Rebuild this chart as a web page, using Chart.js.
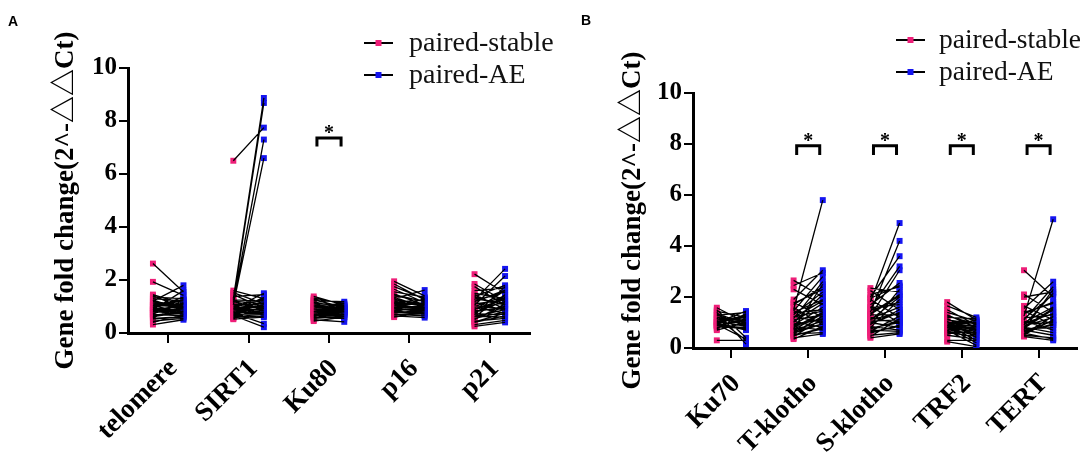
<!DOCTYPE html>
<html>
<head>
<meta charset="utf-8">
<script src="https://cdn.jsdelivr.net/npm/chart.js@4.4.1/dist/chart.umd.min.js"></script>
<style>
  body { margin: 0; background: #fff; }
  #wrap { position: relative; width: 1084px; height: 456px; overflow: hidden; }
  canvas { position: absolute; top: 0; }
  #cA { left: 0; }
  #cB { left: 540px; }
  .tag { position: absolute; font: bold 14px 'Liberation Sans', Arial, sans-serif; color: #000; }
</style>
</head>
<body>
<div id="wrap">
  <canvas id="cA" width="570" height="456"></canvas>
  <canvas id="cB" width="544" height="456"></canvas>
  <div class="tag" style="left:8px;top:13px">A</div>
  <div class="tag" style="left:581px;top:12px">B</div>
</div>
<script>
// categories / legend / ticks
const genesA = ['telomere', 'SIRT1', 'Ku80', 'p16', 'p21'];
const genesB = ['Ku70', 'T-klotho', 'S-klotho', 'TRF2', 'TERT'];
const series = ['paired-stable', 'paired-AE'];
const yTicks = [0, 2, 4, 6, 8, 10];
const yTitle = 'Gene fold change(2^-△△Ct)';

// panel A (same index = same patient)
const telomereStable = [2.62, 1.93, 1.45, 1.40, 1.35, 1.30, 1.25, 1.20, 1.18, 1.12, 1.08, 1.05, 1.02, 0.98, 0.95, 0.92, 0.90, 0.88, 0.85, 0.82, 0.80, 0.78, 0.75, 0.72, 0.70, 0.66, 0.62, 0.58, 0.52, 0.45, 0.40, 0.32, 1.15, 1.00, 0.93, 0.86, 0.76, 0.68, 0.60, 0.55];
const telomereAE     = [1.55, 1.42, 1.10, 0.95, 1.30, 1.20, 0.85, 1.80, 1.05, 0.90, 1.25, 0.98, 0.80, 1.15, 1.35, 0.75, 1.00, 1.60, 0.92, 0.70, 1.08, 0.88, 0.95, 1.12, 0.65, 0.82, 0.78, 1.02, 0.60, 0.55, 0.68, 0.50, 1.00, 1.22, 0.87, 1.05, 0.96, 0.74, 0.90, 0.62];
const sirt1Stable = [6.50, 1.60, 1.52, 1.45, 1.38, 1.30, 1.25, 1.22, 1.18, 1.15, 1.10, 1.06, 1.02, 0.98, 0.95, 0.92, 0.90, 0.87, 0.85, 0.82, 0.80, 0.78, 0.75, 0.72, 0.70, 0.66, 0.62, 0.58, 0.55, 0.52, 1.20, 1.08, 1.00, 0.93, 0.88, 0.76, 0.68, 0.60];
const sirt1AE     = [7.75, 1.30, 1.10, 0.95, 1.45, 8.87, 1.20, 8.68, 0.90, 7.30, 1.05, 6.60, 1.25, 1.00, 0.85, 1.50, 1.15, 0.80, 0.92, 1.35, 0.75, 1.08, 0.35, 0.70, 0.98, 0.22, 0.88, 0.65, 1.02, 0.60, 1.10, 0.92, 1.28, 0.85, 1.05, 0.95, 0.78, 0.72];
const ku80Stable = [1.38, 1.32, 1.28, 1.22, 1.18, 1.15, 1.10, 1.06, 1.02, 1.00, 0.98, 0.95, 0.92, 0.90, 0.88, 0.86, 0.84, 0.82, 0.80, 0.78, 0.75, 0.72, 0.70, 0.68, 0.65, 0.62, 0.58, 0.55, 0.50, 0.45, 1.25, 1.12, 1.04, 0.96, 0.87, 0.79, 0.71, 0.60];
const ku80AE     = [1.05, 1.10, 0.95, 1.18, 0.90, 1.00, 0.85, 0.92, 1.12, 0.80, 0.88, 0.98, 0.82, 1.02, 0.78, 0.95, 0.86, 0.75, 0.90, 0.72, 0.84, 0.80, 0.70, 0.65, 0.88, 0.55, 0.78, 0.62, 0.42, 0.60, 0.98, 1.05, 0.86, 0.93, 0.80, 0.88, 0.76, 0.68];
const p16Stable = [1.95, 1.85, 1.75, 1.65, 1.55, 1.48, 1.40, 1.35, 1.30, 1.25, 1.20, 1.16, 1.12, 1.08, 1.05, 1.02, 1.00, 0.97, 0.94, 0.92, 0.90, 0.88, 0.85, 0.82, 0.80, 0.78, 0.75, 0.70, 0.65, 0.60, 1.45, 1.28, 1.14, 1.03, 0.95, 0.86, 0.77, 0.68];
const p16AE     = [1.40, 1.25, 1.30, 1.15, 1.35, 1.05, 1.20, 0.95, 1.62, 1.10, 1.00, 1.25, 0.90, 1.08, 0.85, 1.15, 0.98, 0.92, 1.30, 0.80, 1.02, 0.88, 0.95, 0.75, 1.05, 0.70, 0.82, 0.65, 0.58, 0.78, 1.18, 1.05, 1.12, 0.96, 1.02, 0.90, 0.85, 0.72];
const p21Stable = [2.22, 1.85, 1.75, 1.60, 1.50, 1.45, 1.38, 1.30, 1.25, 1.20, 1.15, 1.10, 1.05, 1.00, 0.96, 0.92, 0.88, 0.84, 0.80, 0.76, 0.72, 0.68, 0.64, 0.60, 0.55, 0.50, 0.45, 0.40, 0.32, 0.25, 1.35, 1.18, 1.02, 0.90, 0.78, 0.62, 0.52, 0.42];
const p21AE     = [1.50, 1.20, 1.05, 1.70, 1.30, 0.90, 1.80, 1.10, 2.42, 1.55, 0.85, 1.25, 2.15, 1.40, 0.75, 1.15, 1.60, 0.95, 1.00, 1.35, 0.70, 1.75, 0.60, 1.45, 0.80, 1.10, 0.55, 0.65, 0.48, 0.40, 1.05, 1.62, 0.92, 1.28, 1.20, 0.88, 1.00, 0.75];

// panel B
const ku70Stable = [1.58, 1.50, 1.45, 1.40, 1.35, 1.28, 1.22, 1.18, 1.12, 1.08, 1.04, 1.00, 0.98, 0.95, 0.92, 0.90, 0.88, 0.85, 0.80, 0.75, 0.70, 0.30, 1.30, 1.15, 1.02, 0.86];
const ku70AE     = [1.00, 0.40, 1.20, 0.15, 0.95, 1.40, 0.90, 0.30, 1.10, 1.25, 0.85, 1.45, 0.70, 1.30, 0.35, 1.05, 0.80, 1.15, 0.95, 1.35, 1.00, 0.30, 0.85, 1.05, 1.20, 0.75];
const tklothoStable = [2.65, 2.45, 2.30, 1.90, 1.80, 1.70, 1.60, 1.50, 1.45, 1.38, 1.30, 1.25, 1.20, 1.15, 1.10, 1.05, 1.00, 0.95, 0.90, 0.85, 0.80, 0.75, 0.70, 0.65, 0.60, 0.55, 0.50, 0.45, 0.40, 0.35, 1.75, 1.40, 1.22, 1.02, 0.88, 0.72, 0.58, 0.48];
const tklothoAE     = [2.00, 2.95, 1.70, 3.05, 1.20, 2.40, 0.90, 5.80, 2.80, 1.50, 2.20, 1.00, 1.85, 2.60, 1.30, 0.80, 2.10, 1.10, 1.60, 0.70, 1.40, 2.50, 1.05, 0.95, 1.25, 0.60, 0.75, 1.15, 0.55, 0.85, 2.30, 1.90, 1.45, 1.75, 1.15, 1.35, 0.95, 0.80];
const sklothoStable = [2.35, 2.25, 2.10, 2.00, 1.90, 1.80, 1.70, 1.62, 1.55, 1.48, 1.40, 1.35, 1.30, 1.25, 1.20, 1.15, 1.10, 1.05, 1.00, 0.95, 0.90, 0.85, 0.80, 0.75, 0.70, 0.65, 0.58, 0.50, 0.45, 0.40, 1.95, 1.58, 1.32, 1.12, 0.92, 0.78, 0.62];
const sklothoAE     = [2.20, 1.50, 2.40, 3.60, 1.20, 4.90, 2.55, 1.00, 3.20, 1.80, 4.20, 2.10, 1.30, 3.05, 0.95, 1.60, 2.00, 1.10, 0.80, 1.40, 2.30, 0.70, 1.90, 1.05, 0.65, 1.25, 0.90, 0.60, 1.15, 0.55, 2.45, 1.70, 2.05, 1.35, 1.50, 1.00, 0.85];
const trf2Stable = [1.80, 1.65, 1.50, 1.40, 1.30, 1.20, 1.15, 1.10, 1.05, 1.00, 0.98, 0.95, 0.92, 0.90, 0.88, 0.85, 0.82, 0.80, 0.78, 0.75, 0.72, 0.70, 0.65, 0.60, 0.55, 0.50, 0.30, 0.25, 1.25, 1.02, 0.94, 0.86, 0.76, 0.62];
const trf2AE     = [1.10, 1.20, 0.90, 1.05, 0.80, 1.15, 0.60, 0.95, 0.40, 1.00, 0.85, 0.70, 1.08, 0.30, 0.88, 0.75, 0.20, 0.92, 0.65, 0.50, 0.82, 0.10, 0.78, 0.45, 0.68, 0.35, 0.30, 0.05, 0.95, 0.70, 1.00, 0.55, 0.85, 0.60];
const tertStable = [3.05, 2.10, 2.00, 1.65, 1.55, 1.45, 1.35, 1.25, 1.18, 1.10, 1.05, 1.00, 0.95, 0.90, 0.86, 0.82, 0.78, 0.75, 0.72, 0.70, 0.66, 0.62, 0.58, 0.55, 0.50, 0.45, 1.40, 1.15, 0.98, 0.84, 0.68, 0.52];
const tertAE     = [2.00, 1.40, 2.20, 1.10, 2.60, 0.90, 1.80, 5.05, 1.30, 2.40, 0.70, 1.60, 1.00, 2.15, 1.20, 0.60, 1.50, 0.80, 2.30, 0.50, 1.05, 0.95, 0.35, 1.25, 0.40, 0.30, 1.75, 2.10, 1.35, 1.55, 0.90, 1.10];

// significance (*) : gene index + bracket bottom/top
const sigA = [2];
const bracketA = [7.04, 7.36];
const sigB = [1, 2, 3, 4];
const bracketB = [7.57, 7.93];

const SERIF = "'Liberation Serif', 'Times New Roman', serif";
const TITLE_FONT = "'Liberation Serif', 'Noto Sans CJK SC', serif";
const PINK = '#ee1e78';
const BLUE = '#1515f0';
const SHIFT = 0.19;

function pairs(stable, ae) {
  const lines = [], s = [], a = [];
  stable.forEach((g, i) => {
    g.forEach((v, k) => {
      lines.push({x: i - SHIFT, y: v}, {x: i + SHIFT, y: ae[i][k]}, {x: i, y: null});
      s.push({x: i - SHIFT, y: v});
      a.push({x: i + SHIFT, y: ae[i][k]});
    });
  });
  return {lines, s, a};
}

function brackets(idx, lim) {
  const pts = [];
  idx.forEach(i => {
    pts.push({x: i - 0.15, y: lim[0]}, {x: i - 0.15, y: lim[1]},
             {x: i + 0.15, y: lim[1]}, {x: i + 0.15, y: lim[0]}, {x: i, y: null});
  });
  return pts;
}

// asterisks above brackets
const starPlugin = {
  id: 'stars',
  afterDatasetsDraw(chart, args, opts) {
    const ctx = chart.ctx;
    ctx.save();
    ctx.fillStyle = '#000';
    ctx.font = 'bold 20px ' + SERIF;
    ctx.textAlign = 'center';
    ctx.textBaseline = 'alphabetic';
    opts.idx.forEach(i => {
      const x = chart.scales.x.getPixelForValue(i);
      const y = chart.scales.y.getPixelForValue(opts.level);
      ctx.fillText('*', x, y + 1);
    });
    ctx.restore();
  }
};

// legend: short black line with square marker
const legendPlugin = {
  id: 'pairLegend',
  afterDraw(chart, args, opts) {
    const ctx = chart.ctx;
    ctx.save();
    ctx.font = opts.size + 'px ' + SERIF;
    ctx.textBaseline = 'middle';
    series.forEach((name, k) => {
      const y = opts.y + k * opts.gap;
      ctx.strokeStyle = '#000';
      ctx.lineWidth = 2;
      ctx.beginPath();
      ctx.moveTo(opts.x, y);
      ctx.lineTo(opts.x + 29, y);
      ctx.stroke();
      ctx.fillStyle = k === 0 ? PINK : BLUE;
      ctx.fillRect(opts.x + 11.5, y - 3, 6, 6);
      ctx.fillStyle = '#111';
      ctx.fillText(name, opts.textX, y + 1);
    });
    ctx.restore();
  }
};

function makeChart(id, genes, stable, ae, sig, lim, lay) {
  const p = pairs(stable, ae);
  const axisGrid = { drawOnChartArea: false, drawTicks: true, color: '#000', lineWidth: 2 };
  return new Chart(document.getElementById(id), {
    type: 'scatter',
    data: {
      datasets: [
        { label: 'pairs', data: p.lines, showLine: true, borderColor: '#000', borderWidth: 1.3,
          pointRadius: 0, spanGaps: false, order: 0 },
        { label: 'brackets', data: brackets(sig, lim), showLine: true, borderColor: '#000', borderWidth: 3,
          pointRadius: 0, spanGaps: false, order: 0 },
        { label: series[0], data: p.s, pointStyle: 'rect', pointRadius: 4.2, pointBorderWidth: 0,
          pointBackgroundColor: PINK, order: 1 },
        { label: series[1], data: p.a, pointStyle: 'rect', pointRadius: 4.2, pointBorderWidth: 0,
          pointBackgroundColor: BLUE, order: 1 }
      ]
    },
    options: {
      responsive: false,
      animation: false,
      events: [],
      layout: { padding: lay.pad },
      plugins: {
        legend: { display: false },
        tooltip: { enabled: false },
        stars: { idx: sig, level: lim[1] },
        pairLegend: lay.legend
      },
      scales: {
        x: {
          type: 'linear', min: -0.5, max: 4.5,
          afterBuildTicks: s => { s.ticks = genes.map((g, i) => ({ value: i })); },
          afterFit: s => { s.height = lay.xH; },
          ticks: { callback: v => genes[v], minRotation: 45, maxRotation: 45, padding: 10, labelOffset: 5,
                   color: '#000', font: { family: SERIF, size: 27, weight: 'bold' } },
          grid: Object.assign({ tickLength: 10 }, axisGrid),
          border: { display: true, color: '#000', width: 3 }
        },
        y: {
          min: 0, max: 10,
          afterBuildTicks: s => { s.ticks = yTicks.map(v => ({ value: v })); },
          afterFit: s => { s.width = lay.yW; },
          ticks: { padding: 2, color: '#000', font: { family: SERIF, size: 25, weight: 'bold' } },
          grid: Object.assign({ tickLength: 9 }, axisGrid),
          border: { display: true, color: '#000', width: 3 },
          title: { display: true, text: yTitle, color: '#000', padding: { top: 4, bottom: 0 },
                   font: { family: TITLE_FONT, size: 27, weight: 'bold' } }
        }
      }
    },
    plugins: [starPlugin, legendPlugin]
  });
}

makeChart('cA', genesA,
  [telomereStable, sirt1Stable, ku80Stable, p16Stable, p21Stable],
  [telomereAE, sirt1AE, ku80AE, p16AE, p21AE],
  sigA, bracketA,
  { pad: { left: 46, top: 68, right: 40, bottom: 0 }, yW: 82, xH: 123,
    legend: { x: 364, y: 43, gap: 32, textX: 409, size: 28 } });

makeChart('cB', genesB,
  [ku70Stable, tklothoStable, sklothoStable, trf2Stable, tertStable],
  [ku70AE, tklothoAE, sklothoAE, trf2AE, tertAE],
  sigB, bracketB,
  { pad: { left: 73, top: 93, right: 7, bottom: 0 }, yW: 80, xH: 108,
    legend: { x: 356, y: 40, gap: 32, textX: 399, size: 27.5 } });
</script>
</body>
</html>
